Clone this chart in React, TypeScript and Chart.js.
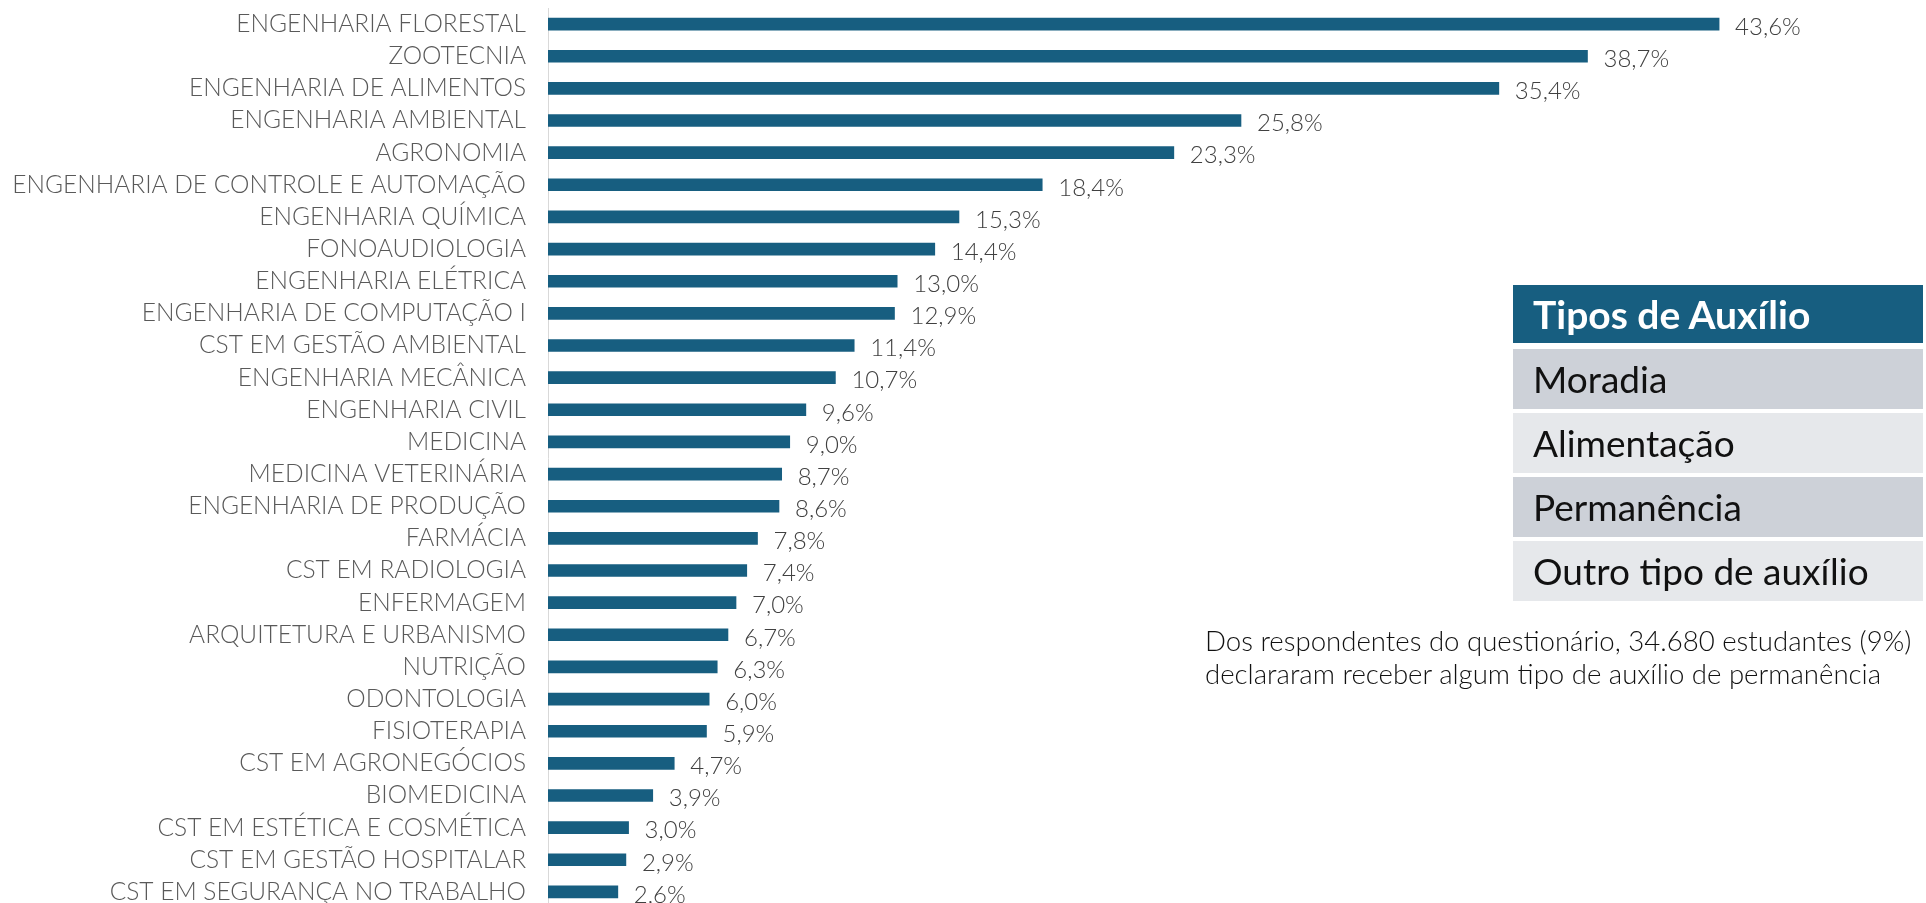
import React, { useEffect, useRef } from "react";
import { Chart, registerables } from "chart.js";

Chart.register(...registerables);

const courses: string[] = [
  "ENGENHARIA FLORESTAL",
  "ZOOTECNIA",
  "ENGENHARIA DE ALIMENTOS",
  "ENGENHARIA AMBIENTAL",
  "AGRONOMIA",
  "ENGENHARIA DE CONTROLE E AUTOMAÇÃO",
  "ENGENHARIA QUÍMICA",
  "FONOAUDIOLOGIA",
  "ENGENHARIA ELÉTRICA",
  "ENGENHARIA DE COMPUTAÇÃO I",
  "CST EM GESTÃO AMBIENTAL",
  "ENGENHARIA MECÂNICA",
  "ENGENHARIA CIVIL",
  "MEDICINA",
  "MEDICINA VETERINÁRIA",
  "ENGENHARIA DE PRODUÇÃO",
  "FARMÁCIA",
  "CST EM RADIOLOGIA",
  "ENFERMAGEM",
  "ARQUITETURA E URBANISMO",
  "NUTRIÇÃO",
  "ODONTOLOGIA",
  "FISIOTERAPIA",
  "CST EM AGRONEGÓCIOS",
  "BIOMEDICINA",
  "CST EM ESTÉTICA E COSMÉTICA",
  "CST EM GESTÃO HOSPITALAR",
  "CST EM SEGURANÇA NO TRABALHO",
];

const shares: number[] = [
  43.6, 38.7, 35.4, 25.8, 23.3, 18.4, 15.3, 14.4, 13.0, 12.9, 11.4, 10.7, 9.6,
  9.0, 8.7, 8.6, 7.8, 7.4, 7.0, 6.7, 6.3, 6.0, 5.9, 4.7, 3.9, 3.0, 2.9, 2.6,
];

const legendTitle = "Tipos de Auxílio";
const legendItems: string[] = ["Moradia", "Alimentação", "Permanência", "Outro tipo de auxílio"];
const noteLines: string[] = [
  "Dos respondentes do questionário, 34.680 estudantes (9%)",
  "declararam receber algum tipo de auxílio de permanência",
];

const BAR = "#175E80";
const FONT = "Lato, 'Open Sans', sans-serif";

const fmt = (v: number) => v.toFixed(1).replace(".", ",") + "%";

const valueLabels = {
  id: "valueLabels",
  afterDatasetsDraw(chart: any) {
    const ctx = chart.ctx;
    const meta = chart.getDatasetMeta(0);
    ctx.save();
    ctx.font = `300 24px ${FONT}`;
    ctx.fillStyle = "#404040";
    ctx.textAlign = "left";
    ctx.textBaseline = "middle";
    meta.data.forEach((el: any, i: number) => {
      ctx.fillText(fmt(shares[i]), el.x + 16, el.y + 3);
    });
    ctx.restore();
  },
};

export default function App() {
  const ref = useRef<HTMLCanvasElement | null>(null);

  useEffect(() => {
    if (!ref.current) return;
    const chart = new Chart(ref.current, {
      type: "bar",
      data: {
        labels: courses,
        datasets: [
          {
            data: shares,
            backgroundColor: BAR,
            barThickness: 12,
          },
        ],
      },
      options: {
        indexAxis: "y",
        animation: false,
        responsive: false,
        maintainAspectRatio: false,
        layout: { padding: { top: 8, bottom: 2, left: 0, right: 35 } },
        plugins: { legend: { display: false }, tooltip: { enabled: false } },
        scales: {
          x: { display: false, min: 0, max: 50 },
          y: {
            grid: { display: false, drawTicks: false },
            border: { display: true, color: "#D9D9D9", width: 1 },
            ticks: {
              autoSkip: false,
              padding: 22,
              color: "#595959",
              font: { family: FONT, size: 24.5, weight: "300" },
            },
            afterFit: (s: any) => {
              s.width = 548;
              s.paddingTop = 0;
              s.paddingBottom = 0;
            },
          },
        },
      },
      plugins: [valueLabels],
    });
    return () => chart.destroy();
  }, []);

  return (
    <div
      style={{
        position: "fixed",
        left: 0,
        top: 0,
        width: 1926,
        height: 903,
        overflow: "hidden",
        background: "#fff",
        fontFamily: FONT,
      }}
    >
      <canvas ref={ref} width={1926} height={910} style={{ position: "absolute", left: 0, top: 0 }} />
      <div style={{ position: "absolute", left: 1513, top: 285, width: 410 }}>
        <div
          style={{
            height: 58,
            background: BAR,
            color: "#fff",
            fontWeight: 700,
            fontSize: 39,
            lineHeight: "58px",
            paddingLeft: 20,
            marginBottom: 6,
          }}
        >
          {legendTitle}
        </div>
        {legendItems.map((t, i) => (
          <div
            key={t}
            style={{
              height: 60,
              background: i % 2 === 0 ? "#CDD1D8" : "#E6E8EB",
              color: "#111",
              fontSize: 37,
              lineHeight: "60px",
              paddingLeft: 20,
              marginBottom: 4,
            }}
          >
            {t}
          </div>
        ))}
      </div>
      <div
        style={{
          position: "absolute",
          left: 1205,
          top: 624,
          color: "#111",
          fontSize: 27.6,
          fontWeight: 300,
          lineHeight: "33px",
          whiteSpace: "nowrap",
        }}
      >
        {noteLines.map((l) => (
          <div key={l}>{l}</div>
        ))}
      </div>
    </div>
  );
}
